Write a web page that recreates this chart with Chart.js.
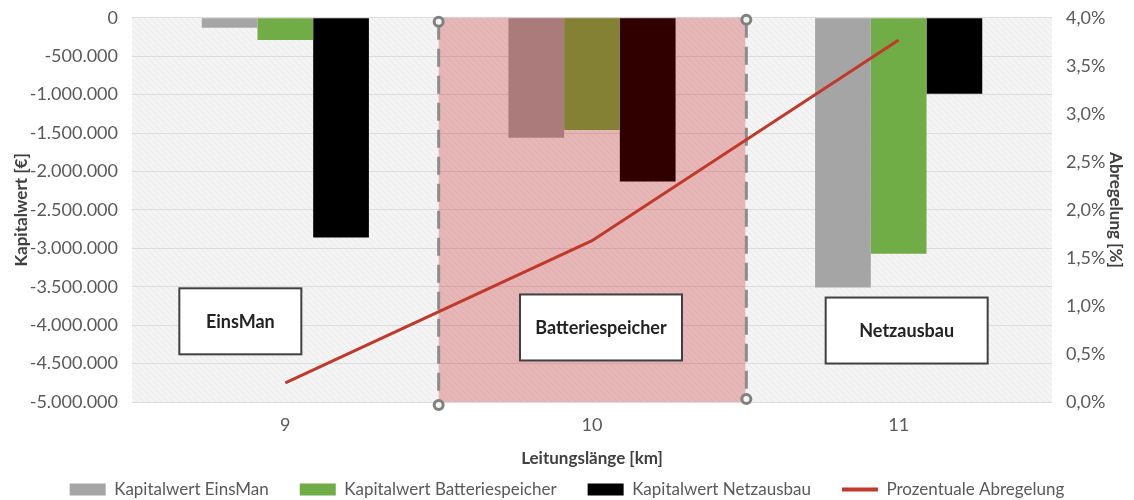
<!DOCTYPE html>
<html lang="de">
<head>
<meta charset="UTF-8" />
<title>Kapitalwert und Abregelung</title>
<script src="https://cdn.jsdelivr.net/npm/chart.js"></script>
<style>
  html, body { margin: 0; padding: 0; background: #fff; }
  #wrap { width: 1134px; height: 500px; }
</style>
</head>
<body>
<div id="wrap"><canvas id="chart"></canvas></div>
<script>
  // Leitungslänge [km]
  const categories = ['9', '10', '11'];
  // Kapitalwert [€]
  const kwEinsMan = [-130000, -1560000, -3510000];
  const kwBatterie = [-290000, -1460000, -3070000];
  const kwNetzausbau = [-2860000, -2130000, -990000];
  // Prozentuale Abregelung [%]
  const abregelung = [0.2, 1.68, 3.77];
  // label boxes: category index + text
  const boxCats = [0, 1, 2];
  const boxLabels = ['EinsMan', 'Batteriespeicher', 'Netzausbau'];

  const FONT = 'Lato';
  Chart.defaults.font.family = FONT;
  Chart.defaults.color = '#595959';

  // light hatch for the plot background
  const hatch = (() => {
    const c = document.createElement('canvas');
    c.width = 6; c.height = 6;
    const g = c.getContext('2d');
    g.fillStyle = '#f4f4f4';
    g.fillRect(0, 0, 6, 6);
    g.strokeStyle = '#e9e9e9';
    g.lineWidth = 1;
    g.beginPath();
    g.moveTo(-1, -1); g.lineTo(7, 7);
    g.moveTo(-4, 2); g.lineTo(2, 8);
    g.moveTo(2, -4); g.lineTo(8, 2);
    g.stroke();
    return c;
  })();

  function catBounds(chart, i) {
    const x = chart.scales.x;
    const w = (chart.chartArea.right - chart.chartArea.left) / categories.length;
    const cx = x.getPixelForValue(i);
    return [cx - w / 2, cx + w / 2];
  }

  function ring(ctx, x, y) {
    ctx.beginPath();
    ctx.arc(x, y, 4.5, 0, Math.PI * 2);
    ctx.fillStyle = '#f4f4f4';
    ctx.fill();
    ctx.lineWidth = 3;
    ctx.strokeStyle = '#808080';
    ctx.stroke();
  }

  const decor = {
    id: 'decor',
    beforeDraw(chart) {
      const { ctx, chartArea: a } = chart;
      ctx.save();
      ctx.fillStyle = ctx.createPattern(hatch, 'repeat');
      ctx.fillRect(a.left, a.top, a.right - a.left, a.bottom - a.top);
      ctx.restore();
    },
    beforeDatasetDraw(chart, args) {
      if (args.index !== 3) return;
      const { ctx, chartArea: a } = chart;
      const [l, r] = catBounds(chart, 1);
      ctx.save();
      ctx.fillStyle = 'rgba(192, 0, 0, 0.25)';
      ctx.fillRect(l, a.top, r - l, a.bottom - a.top);
      // dashed borders of the Batteriespeicher range
      ctx.strokeStyle = '#8c8c8c';
      ctx.lineWidth = 3;
      ctx.setLineDash([18, 9]);
      ctx.beginPath();
      ctx.moveTo(l, a.top + 4); ctx.lineTo(l, a.bottom + 3);
      ctx.moveTo(r + 1, a.top + 2); ctx.lineTo(r + 1, a.bottom - 3);
      ctx.stroke();
      ctx.setLineDash([]);
      ring(ctx, l, a.top + 4);
      ring(ctx, l, a.bottom + 3);
      ring(ctx, r + 1, a.top + 2);
      ring(ctx, r + 1, a.bottom - 3);
      ctx.restore();
    },
    afterDatasetsDraw(chart) {
      const { ctx } = chart;
      const y = chart.scales.y;
      const offs = [[-45, -3950000, 122], [9, -4030000, 162], [8, -4070000, 162]];
      ctx.save();
      boxCats.forEach((ci, k) => {
        const cx = chart.scales.x.getPixelForValue(ci) + offs[k][0];
        const cy = y.getPixelForValue(offs[k][1]);
        const w = offs[k][2], h = 66;
        ctx.fillStyle = '#ffffff';
        ctx.fillRect(cx - w / 2, cy - h / 2, w, h);
        ctx.lineWidth = 2;
        ctx.strokeStyle = '#404040';
        ctx.strokeRect(cx - w / 2, cy - h / 2, w, h);
        ctx.fillStyle = '#222222';
        ctx.font = 'bold 18px ' + FONT;
        ctx.textAlign = 'center';
        ctx.textBaseline = 'middle';
        ctx.fillText(boxLabels[k], cx, cy + 1);
      });
      ctx.restore();
    }
  };

  const de = new Intl.NumberFormat('de-DE');

  new Chart(document.getElementById('chart'), {
    data: {
      labels: categories,
      datasets: [
        { type: 'bar', label: 'Kapitalwert EinsMan', data: kwEinsMan, backgroundColor: '#a5a5a5', yAxisID: 'y', order: 1 },
        { type: 'bar', label: 'Kapitalwert Batteriespeicher', data: kwBatterie, backgroundColor: '#70ad47', yAxisID: 'y', order: 1 },
        { type: 'bar', label: 'Kapitalwert Netzausbau', data: kwNetzausbau, backgroundColor: '#000000', yAxisID: 'y', order: 1 },
        { type: 'line', label: 'Prozentuale Abregelung', data: abregelung, borderColor: '#c0392b', backgroundColor: '#c0392b',
          borderWidth: 3, pointRadius: 0, yAxisID: 'y2', order: 0 }
      ]
    },
    options: {
      responsive: true,
      maintainAspectRatio: false,
      animation: false,
      layout: { padding: { top: 7, left: 0, right: 0, bottom: 0 } },
      datasets: { bar: { categoryPercentage: 0.545, barPercentage: 1 } },
      plugins: {
        tooltip: { enabled: false },
        legend: {
          position: 'bottom',
          maxHeight: 50,
          labels: {
            usePointStyle: true,
            pointStyleWidth: 36,
            boxHeight: 12,
            padding: 31,
            color: '#595959',
            font: { size: 17 },
            sort: (a, b) => a.datasetIndex - b.datasetIndex,
            generateLabels(chart) {
              const items = Chart.defaults.plugins.legend.labels.generateLabels(chart);
              items.forEach(it => {
                if (it.datasetIndex === 3) { it.pointStyle = 'line'; it.lineWidth = 4; }
                else { it.pointStyle = 'rect'; it.lineWidth = 0; }
              });
              return items;
            }
          }
        }
      },
      scales: {
        x: {
          grid: { display: false, drawTicks: false },
          border: { display: false },
          ticks: { padding: 12, font: { size: 18 }, color: '#595959' },
          title: { display: true, text: 'Leitungslänge [km]', color: '#404040', font: { size: 17, weight: 'bold' }, padding: { top: 0, bottom: -19 } },
          afterFit(s) { s.height = 48; }
        },
        y: {
          position: 'left',
          min: -5000000,
          max: 0,
          ticks: { stepSize: 500000, padding: 7, font: { size: 18 }, color: '#595959', callback: v => de.format(v) },
          grid: { color: '#dcdcdc', drawTicks: true, tickLength: 7, tickColor: 'rgba(0,0,0,0)' },
          border: { display: false },
          title: { display: true, text: 'Kapitalwert [€]', color: '#404040', font: { size: 17, weight: 'bold' }, padding: { top: 11 } },
          afterFit(s) { s.width = 132; }
        },
        y2: {
          position: 'right',
          min: 0,
          max: 4,
          ticks: { stepSize: 0.5, padding: 7, font: { size: 18 }, color: '#595959', callback: v => v.toFixed(1).replace('.', ',') + '%' },
          grid: { color: 'rgba(0,0,0,0)', drawOnChartArea: false, drawTicks: true, tickLength: 7 },
          border: { display: false },
          title: { display: true, text: 'Abregelung [%]', color: '#404040', font: { size: 17, weight: 'bold' }, padding: { top: 8 } },
          afterFit(s) { s.width = 82; }
        }
      }
    },
    plugins: [decor]
  });
</script>
</body>
</html>
